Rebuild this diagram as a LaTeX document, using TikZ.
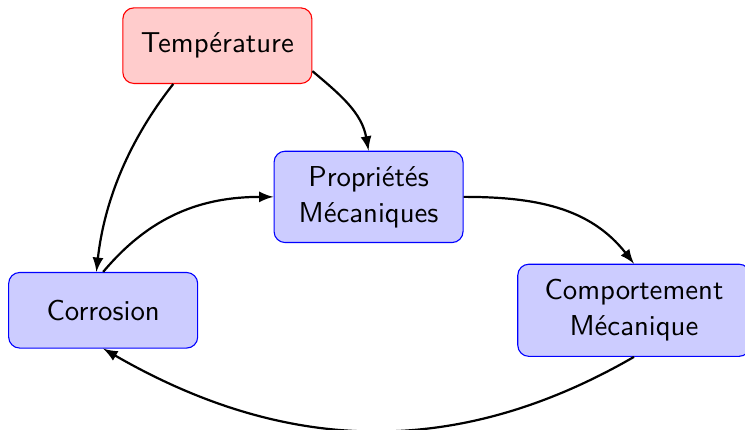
\documentclass[tikz,border=0pt]{standalone}
\usetikzlibrary{arrows}

\begin{document}
\begin{tikzpicture}[>=latex,thick,
  block/.style={draw=blue, thin, rounded corners, fill=blue!20, minimum width=2.4cm, minimum height=0.96cm, align=center, inner sep=2pt, font=\sffamily\fontsize{10.4}{13}\selectfont},
  hot/.style={block, draw=red, fill=red!20}]
  \useasboundingbox (0,0) rectangle (9.46,-5.46);

  \node[hot] (temp) at (2.76,-0.58) {Température};
  \node[block, minimum height=1.16cm] (prop) at (4.68,-2.50) {Propriétés\\Mécaniques};
  \node[block] (corr) at (1.31,-3.94) {Corrosion};
  \node[block, minimum width=2.95cm, minimum height=1.17cm] (comp) at (8.05,-3.94) {Comportement\\Mécanique};

  % Arrows
  \draw[->] (temp.-15) to[out=-40, in=100] (prop.north);
  \draw[->] (temp.-139) to[bend right=16, looseness=0.9] (corr.100);
  \draw[->] (corr.north) to[out=50, in=180] (prop.west);
  \draw[->] (prop.east) to[out=0, in=128] (comp.north);
  \draw[->] (comp.south) to[out=-150, in=-30] (corr.south);
\end{tikzpicture}
\end{document}
